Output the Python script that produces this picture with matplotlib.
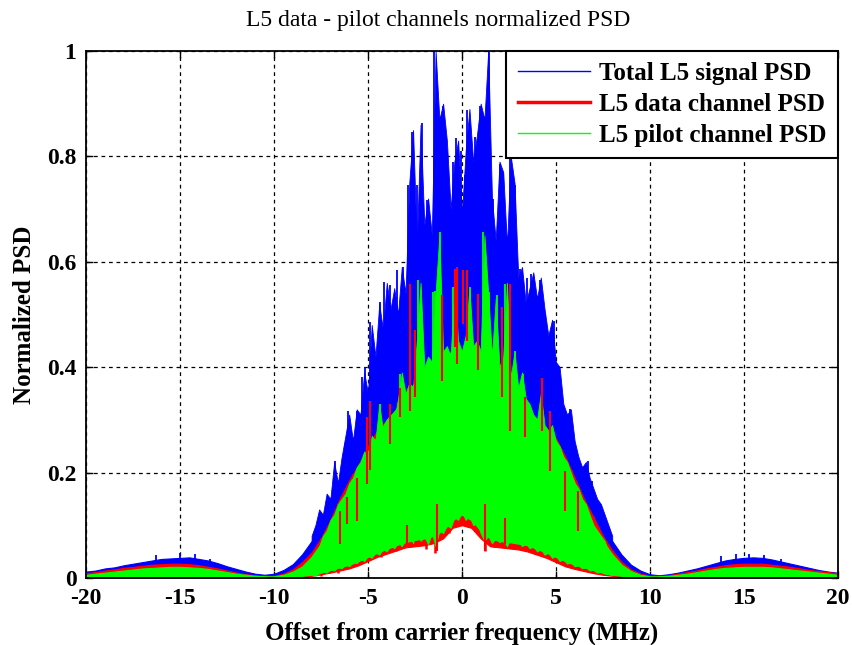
import numpy as np
import matplotlib
matplotlib.use("Agg")
import matplotlib.pyplot as plt

# ---------------- data ----------------
# coarse envelopes, -20..20 MHz every 0.5 MHz
freq = np.arange(-20, 20.01, 0.5)

blue_solid = [
    0.012, 0.014, 0.018, 0.020, 0.024, 0.027, 0.030, 0.033, 0.036, 0.037,
    0.038, 0.039, 0.036, 0.033, 0.028, 0.022, 0.017, 0.012, 0.008, 0.006,
    0.008, 0.015, 0.026, 0.045, 0.070, 0.105, 0.150, 0.190, 0.235, 0.275,
    0.320, 0.360, 0.400, 0.440, 0.470, 0.500, 0.520, 0.540, 0.560, 0.550,
    0.540,
    0.550, 0.560, 0.540, 0.520, 0.500, 0.470, 0.440, 0.400, 0.360, 0.320,
    0.275, 0.235, 0.190, 0.150, 0.105, 0.070, 0.044, 0.025, 0.014, 0.007,
    0.005, 0.007, 0.010, 0.014, 0.018, 0.023, 0.028, 0.033, 0.036, 0.038,
    0.039, 0.038, 0.035, 0.031, 0.027, 0.023, 0.019, 0.015, 0.012, 0.010,
]

red_top = [
    0.009, 0.011, 0.014, 0.016, 0.019, 0.021, 0.023, 0.025, 0.026, 0.027,
    0.027, 0.026, 0.024, 0.021, 0.018, 0.014, 0.010, 0.007, 0.005, 0.004,
    0.004, 0.008, 0.016, 0.030, 0.048, 0.075, 0.110, 0.150, 0.185, 0.215,
    0.250, 0.280, 0.300, 0.320, 0.350, 0.360, 0.380, 0.390, 0.400, 0.410,
    0.410,
    0.410, 0.400, 0.390, 0.380, 0.360, 0.340, 0.320, 0.300, 0.280, 0.265,
    0.230, 0.190, 0.150, 0.115, 0.080, 0.052, 0.030, 0.016, 0.008, 0.004,
    0.004, 0.005, 0.008, 0.011, 0.014, 0.018, 0.021, 0.024, 0.026, 0.027,
    0.027, 0.027, 0.025, 0.023, 0.021, 0.018, 0.015, 0.013, 0.011, 0.009,
]

red_bottom = [
    0.001, 0.001, 0.001, 0.001, 0.001, 0.001, 0.001, 0.001, 0.001, 0.001,
    0.001, 0.001, 0.001, 0.001, 0.001, 0.001, 0.001, 0.001, 0.001, 0.001,
    0.000, 0.000, 0.001, 0.002, 0.004, 0.007, 0.010, 0.014, 0.018, 0.024,
    0.032, 0.040, 0.046, 0.052, 0.058, 0.060, 0.062, 0.066, 0.075, 0.095,
    0.100,
    0.095, 0.075, 0.060, 0.058, 0.056, 0.054, 0.050, 0.044, 0.038, 0.030,
    0.022, 0.017, 0.013, 0.009, 0.006, 0.004, 0.002, 0.001, 0.000, 0.000,
    0.001, 0.001, 0.001, 0.001, 0.001, 0.001, 0.001, 0.001, 0.001, 0.001,
    0.001, 0.001, 0.001, 0.001, 0.001, 0.001, 0.001, 0.001, 0.001, 0.001,
]

green_top = [
    0.006, 0.008, 0.010, 0.012, 0.014, 0.016, 0.018, 0.019, 0.020, 0.021,
    0.021, 0.020, 0.019, 0.017, 0.014, 0.011, 0.008, 0.006, 0.004, 0.003,
    0.003, 0.006, 0.012, 0.022, 0.040, 0.065, 0.100, 0.140, 0.170, 0.200,
    0.240, 0.270, 0.300, 0.320, 0.350, 0.370, 0.390, 0.410, 0.420, 0.430,
    0.430,
    0.430, 0.420, 0.410, 0.390, 0.370, 0.340, 0.320, 0.300, 0.280, 0.260,
    0.220, 0.180, 0.140, 0.100, 0.070, 0.045, 0.025, 0.013, 0.006, 0.003,
    0.003, 0.004, 0.006, 0.008, 0.011, 0.014, 0.017, 0.019, 0.020, 0.021,
    0.021, 0.021, 0.020, 0.018, 0.016, 0.014, 0.012, 0.010, 0.008, 0.006,
]

green_bottom = [
    0.002, 0.002, 0.002, 0.002, 0.002, 0.002, 0.002, 0.002, 0.002, 0.002,
    0.002, 0.002, 0.002, 0.002, 0.002, 0.002, 0.002, 0.002, 0.002, 0.002,
    0.000, 0.001, 0.002, 0.004, 0.006, 0.010, 0.015, 0.020, 0.025, 0.032,
    0.040, 0.048, 0.055, 0.062, 0.068, 0.072, 0.075, 0.080, 0.090, 0.110,
    0.120,
    0.110, 0.090, 0.075, 0.070, 0.068, 0.065, 0.062, 0.055, 0.048, 0.040,
    0.032, 0.025, 0.020, 0.015, 0.010, 0.006, 0.004, 0.002, 0.001, 0.000,
    0.002, 0.002, 0.002, 0.002, 0.002, 0.002, 0.002, 0.002, 0.002, 0.002,
    0.002, 0.002, 0.002, 0.002, 0.002, 0.002, 0.002, 0.002, 0.002, 0.002,
]

# fine main-lobe outlines, -8..8 MHz every 0.2 MHz
freq_fine = np.arange(-8, 8.001, 0.2)

blue_outline = [
    0.08, 0.10, 0.13, 0.12, 0.16, 0.15, 0.22, 0.18, 0.23, 0.27,
    0.31, 0.26, 0.32, 0.31, 0.39, 0.35, 0.48, 0.42, 0.52, 0.47,
    0.56, 0.51, 0.55, 0.50, 0.59, 0.54, 0.75, 0.85, 0.63, 0.86,
    0.67, 0.72, 0.65, 1.00, 0.87, 0.90, 0.83, 0.70, 0.79, 0.83,
    0.69,
    0.81, 0.89, 0.79, 0.84, 0.90, 0.87, 1.00, 0.72, 0.64, 0.79,
    0.77, 0.63, 0.80, 0.75, 0.57, 0.59, 0.52, 0.55, 0.58, 0.53,
    0.57, 0.51, 0.46, 0.49, 0.41, 0.40, 0.33, 0.31, 0.32, 0.26,
    0.23, 0.21, 0.22, 0.19, 0.17, 0.15, 0.14, 0.12, 0.10, 0.08,
]

green_top_fine = [
    0.040, 0.050, 0.060, 0.080, 0.090, 0.110, 0.120, 0.140, 0.150, 0.160,
    0.180, 0.190, 0.210, 0.220, 0.240, 0.230, 0.270, 0.260, 0.330, 0.280,
    0.300, 0.310, 0.300, 0.340, 0.390, 0.350, 0.370, 0.360, 0.450, 0.560,
    0.400, 0.420, 0.410, 0.540, 0.650, 0.430, 0.440, 0.420, 0.550, 0.450,
    0.430,
    0.460, 0.550, 0.440, 0.450, 0.430, 0.650, 0.540, 0.420, 0.530, 0.400,
    0.420, 0.560, 0.380, 0.430, 0.360, 0.390, 0.340, 0.330, 0.310, 0.300,
    0.350, 0.290, 0.280, 0.290, 0.260, 0.250, 0.230, 0.220, 0.200, 0.180,
    0.170, 0.150, 0.140, 0.120, 0.100, 0.090, 0.080, 0.070, 0.050, 0.045,
]

green_bottom_fine = [
    0.006, 0.004, 0.009, 0.012, 0.010, 0.016, 0.014, 0.021, 0.018, 0.026,
    0.022, 0.030, 0.028, 0.036, 0.032, 0.042, 0.038, 0.048, 0.044, 0.055,
    0.050, 0.062, 0.056, 0.068, 0.060, 0.072, 0.080, 0.066, 0.090, 0.070,
    0.078, 0.064, 0.085, 0.060, 0.090, 0.085, 0.100, 0.095, 0.115, 0.110,
    0.125,
    0.110, 0.118, 0.100, 0.105, 0.085, 0.070, 0.080, 0.066, 0.075, 0.068,
    0.072, 0.060, 0.075, 0.066, 0.070, 0.060, 0.066, 0.056, 0.060, 0.050,
    0.055, 0.044, 0.048, 0.038, 0.042, 0.032, 0.035, 0.027, 0.030, 0.022,
    0.024, 0.018, 0.020, 0.014, 0.015, 0.010, 0.011, 0.008, 0.007, 0.005,
]

# individual spectral spikes (frequency, peak value)
blue_spike_f = [-7.2, -6.76, -6.22, -6.04, -5.6, -5.34, -5.16, -4.9, -4.36, -4.15,
                -3.83, -3.46, -3.16, -2.86, -2.66, -2.41, -2.15, -1.88, -1.49, -1.17,
                -1.03, -0.82, -0.50, -0.29, -0.05, 0.16, 0.27, 0.46, 0.69, 0.96,
                1.17, 1.46, 1.65, 2.03, 2.2, 2.55, 2.82, 3.09, 3.44, 3.7,
                4.15, 4.42, 4.89, 5.12, 5.39, 5.75, 6.19, 6.72, 6.9, 7.43,
                -16.3, -15.0, -14.2, -13.4, 13.8, 14.6, 15.3, 16.1, 17.0]
blue_spike_h = [0.14, 0.222, 0.254, 0.317, 0.317, 0.381, 0.40, 0.485, 0.523, 0.561,
                0.555, 0.584, 0.59, 0.745, 0.847, 0.745, 0.864, 0.717, 1.0, 0.875,
                0.896, 0.83, 0.79, 0.834, 0.81, 0.764, 0.888, 0.79, 0.837, 0.896,
                0.875, 1.0, 0.72, 0.786, 0.768, 0.797, 0.745, 0.587, 0.57, 0.577,
                0.565, 0.50, 0.488, 0.394, 0.317, 0.32, 0.222, 0.222, 0.184, 0.134,
                0.044, 0.047, 0.045, 0.036, 0.042, 0.045, 0.046, 0.044, 0.036]

green_spike_f = [-4.37, -3.3, -2.33, -1.52, -1.44, -1.17, -0.46, -0.38, 0.43, 1.13,
                 1.46, 1.89, 2.29, 2.82, 3.26, 4.27]
green_spike_h = [0.33, 0.387, 0.565, 0.543, 0.545, 0.656, 0.552, 0.55, 0.552, 0.656,
                 0.543, 0.536, 0.558, 0.43, 0.387, 0.349]

# red data-channel streaks that show through the pilot trace (frequency, low, high)
red_streak_f = [-6.49, -6.13, -5.6, -5.07, -4.89, -3.83, -3.3, -2.94, -2.77, -2.5,
                -1.35, -1.08, -0.37, -0.28, 0.07, 0.25, 0.87, 1.22, 2.11, 2.29,
                2.55, 3.35, 4.24, 4.68, 5.48, 6.19]
red_streak_lo = [0.064, 0.102, 0.108, 0.178, 0.204, 0.254, 0.305, 0.064, 0.317, 0.343,
                 0.051, 0.374, 0.438, 0.406, 0.482, 0.45, 0.394, 0.051, 0.343, 0.064,
                 0.279, 0.267, 0.279, 0.203, 0.127, 0.089]
red_streak_hi = [0.127, 0.153, 0.19, 0.305, 0.336, 0.33, 0.36, 0.10, 0.558, 0.47,
                 0.14, 0.536, 0.587, 0.59, 0.584, 0.584, 0.539, 0.14, 0.514, 0.114,
                 0.558, 0.343, 0.38, 0.317, 0.203, 0.165]

# downward red dips below the green floor (frequency, lowest value)
red_dip_f = [-7.5, -6.6, -5.8, -5.07, -4.3, -3.5, -2.77, -2.4, -1.9, -1.44,
             -0.7, 0.0, 0.69, 1.22, 1.7, 2.28, 3.1, 3.9, 4.76, 5.82, 6.97]
red_dip_v = [0.004, 0.010, 0.026, 0.039, 0.040, 0.052, 0.077, 0.09, 0.055, 0.048,
             0.085, 0.11, 0.10, 0.052, 0.058, 0.064, 0.056, 0.045, 0.038, 0.026, 0.013]

x_ticks = [-20, -15, -10, -5, 0, 5, 10, 15, 20]
y_ticks = [0, 0.2, 0.4, 0.6, 0.8, 1.0]
y_tick_labels = ["0", "0.2", "0.4", "0.6", "0.8", "1"]

# ---------------- drawing ----------------
plt.rcParams["font.family"] = ["Liberation Serif", "DejaVu Serif"]
plt.rcParams["axes.unicode_minus"] = False
fig = plt.figure(figsize=(8.53, 6.45), dpi=100)
ax = fig.add_axes([0.101, 0.104, 0.881, 0.817])

BLUE = "#0000ff"
RED = "#ff0000"
GREEN = "#00ff00"

# total signal
ax.fill_between(freq, green_bottom, blue_solid, color=BLUE, lw=0.8, zorder=2)
base_fine = np.interp(freq_fine, freq, green_bottom)
ax.fill_between(freq_fine, base_fine, blue_outline, color=BLUE, lw=0.6, zorder=2)
base_b = np.interp(blue_spike_f, freq, green_bottom)
ax.vlines(blue_spike_f, base_b, blue_spike_h, color=BLUE, lw=1.3, zorder=2)

# data channel
ax.fill_between(freq, red_bottom, red_top, color=RED, lw=0.8, zorder=3)
top_d = np.interp(red_dip_f, freq, red_top)
ax.vlines(red_dip_f, red_dip_v, top_d, color=RED, lw=1.8, zorder=3)

# pilot channel
ax.fill_between(freq, green_bottom, green_top, color=GREEN, lw=0.8, zorder=4)
ax.fill_between(freq_fine, green_bottom_fine, green_top_fine, color=GREEN, lw=0.6, zorder=4)
base_g = np.interp(green_spike_f, freq, green_bottom)
ax.vlines(green_spike_f, base_g, green_spike_h, color=GREEN, lw=1.3, zorder=4)

# red streaks visible in the gaps of the pilot trace
ax.vlines(red_streak_f, red_streak_lo, red_streak_hi, color=RED, lw=1.5, zorder=5)

# legend proxies
ax.plot([], [], color=BLUE, lw=1.0, label="Total L5 signal PSD")
ax.plot([], [], color=RED, lw=2.5, label="L5 data channel PSD")
ax.plot([], [], color=GREEN, lw=1.0, label="L5 pilot channel PSD")

ax.set_xlim(-20, 20)
ax.set_ylim(0, 1)
ax.set_xticks(x_ticks)
ax.set_yticks(y_ticks)
ax.set_yticklabels(y_tick_labels)
ax.grid(True, color="black", linestyle=(0, (3, 3)), lw=0.9, zorder=1)
ax.set_axisbelow(True)
ax.tick_params(direction="in", top=True, right=True, labelsize=17, length=5,
               width=1, pad=7)
for lab in ax.get_xticklabels() + ax.get_yticklabels():
    lab.set_fontweight("bold")
for s in ax.spines.values():
    s.set_linewidth(1.3)
    s.set_zorder(6)

ax.set_title("L5 data - pilot channels normalized PSD", fontsize=17, pad=18,
             x=0.468)
ax.set_xlabel("Offset from carrier frequency (MHz)", fontsize=18,
              fontweight="bold", labelpad=9)
ax.set_ylabel("Normalized PSD", fontsize=18, fontweight="bold", labelpad=8)

leg = ax.legend(loc="upper right", fancybox=False, framealpha=1,
                edgecolor="black", borderaxespad=0.0, handlelength=2.9,
                labelspacing=0.32, borderpad=0.45, handletextpad=0.35,
                prop={"weight": "bold", "size": 18})
leg.get_frame().set_linewidth(1.5)
leg.set_zorder(10)

fig.savefig("out.png", dpi=100)
